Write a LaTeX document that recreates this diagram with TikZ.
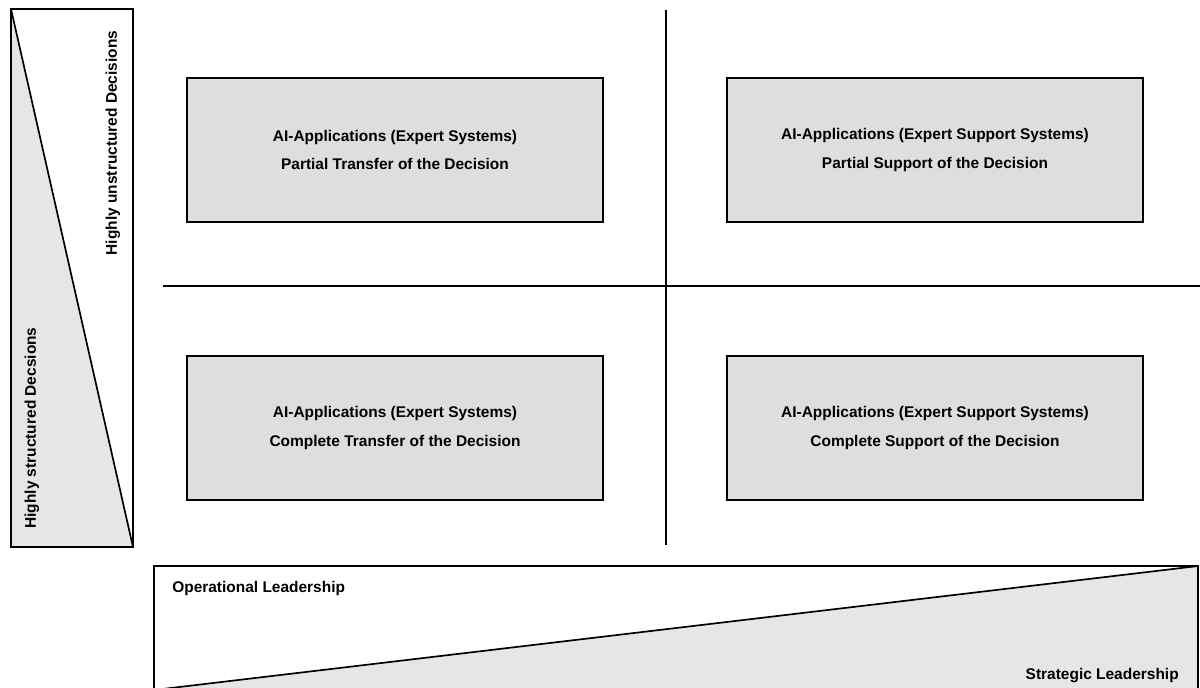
\documentclass[tikz,border=0pt]{standalone}
\usepackage{fontspec}
\setmainfont{Liberation Sans}
\definecolor{boxgray}{RGB}{222,222,222}
\definecolor{wedgegray}{RGB}{230,230,230}
\usetikzlibrary{positioning}

\begin{document}
\begin{tikzpicture}[x=0.025cm,y=-0.025cm,
  appbox/.style={draw,line width=1.2pt,fill=boxgray,minimum width=10.4cm,minimum height=3.6cm,inner sep=0pt,align=center,font=\fontsize{11}{20}\selectfont\bfseries},
  axislabel/.style={inner sep=0pt,font=\fontsize{11}{13}\selectfont\bfseries},
  frame/.style={draw,line width=1.2pt},
  wedge/.style={fill=wedgegray}]
  \useasboundingbox (0,0) rectangle (1200,687);
  \clip (0,0) rectangle (1200,687);
  % Structure wedge (left)
  \fill[wedge] (11,9) -- (133,547) -- (11,547) -- cycle;
  \draw[frame] (11,9) rectangle (133,547);
  \draw[line width=1.2pt] (11,9) -- (133,547);
  \node[axislabel,rotate=90] (unstr) at (113,143) {Highly unstructured Decisions};
  \node[axislabel,rotate=90] (str) at (32,428) {Highly structured Decsions};
  % Leadership wedge (bottom)
  \fill[wedge] (1198,566) -- (1198,690) -- (154,690) -- cycle;
  \draw[frame] (154,566) rectangle (1198,690);
  \draw[line width=1.2pt] (154,690) -- (1198,566);
  \node[axislabel,anchor=base west] (oper) at (172,592) {Operational Leadership};
  \node[axislabel,anchor=base east] (strat) at (1179,679) {Strategic Leadership};
  % Quadrant lines
  \coordinate (vtop) at (666,10);
  \coordinate (vbot) at (666,545);
  \coordinate (hleft) at (163,286);
  \coordinate (hright) at (1200,286);
  \draw[line width=1.2pt] (vtop) -- (vbot);
  \draw[line width=1.2pt] (hleft) -- (hright);
  % Quadrant boxes
  \node[appbox] (pt) at (395,150) {AI-Applications (Expert Systems)\\Partial Transfer of the Decision};
  \node[appbox] (ps) at (935,150) {AI-Applications (Expert Support Systems)\\Partial Support of the Decision};
  \node[appbox] (ct) at (395,428) {AI-Applications (Expert Systems)\\Complete Transfer of the Decision};
  \node[appbox] (cs) at (935,428) {AI-Applications (Expert Support Systems)\\Complete Support of the Decision};
\end{tikzpicture}
\end{document}
